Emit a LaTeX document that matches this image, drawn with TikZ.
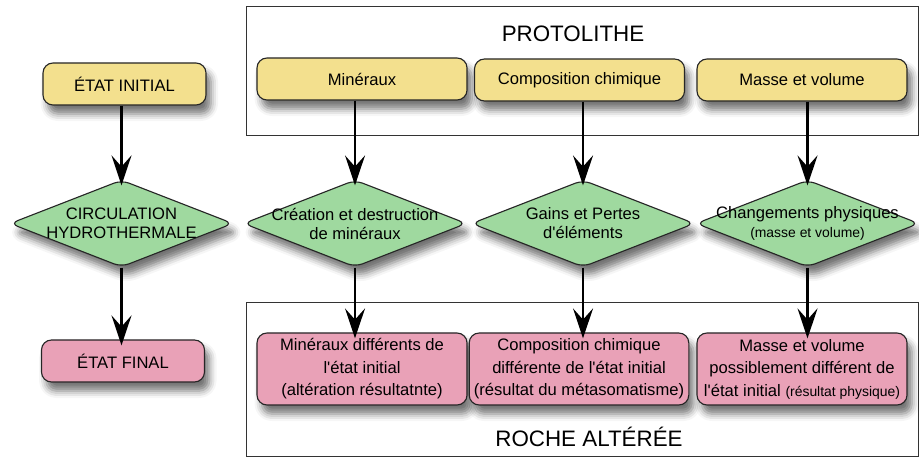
\documentclass[tikz,border=0pt]{standalone}
\usepackage{fontspec}
\setmainfont{Liberation Sans}[Ligatures=TeXOff]
\usetikzlibrary{arrows.meta,shapes.geometric,shadows.blur}

\definecolor{protoyellow}{HTML}{F3E08E}
\definecolor{fluidgreen}{HTML}{9FD99F}
\definecolor{alteredpink}{HTML}{E9A1B7}
\newcommand{\petit}[1]{{\fontsize{9.9}{12}\selectfont #1}}

\begin{document}
\begin{tikzpicture}[x=0.025cm,y=-0.025cm,
    >={Stealth[length=7.5mm,width=5mm,inset=2.8mm]},
    softshadow/.style={blur shadow={shadow xshift=0.12cm,shadow yshift=-0.22cm,
        shadow blur radius=0.18cm,shadow opacity=55}},
    rbox/.style={draw=black!85,line width=0.8pt,rounded corners=0.25cm,align=center,
        font=\fontsize{11.8}{16}\selectfont,softshadow},
    ybox/.style={rbox,fill=protoyellow,minimum width=5.25cm,minimum height=1.05cm},
    pbox/.style={rbox,fill=alteredpink,minimum width=5.25cm,minimum height=1.8cm},
    gdia/.style={diamond,draw=black!85,line width=0.8pt,rounded corners=0.2cm,
        fill=fluidgreen,align=center,font=\fontsize{11.8}{13.5}\selectfont,
        inner xsep=-1.8cm,inner ysep=-0.5cm,
        minimum width=5.575cm,minimum height=2.175cm,softshadow},
    frame/.style={draw=black!80,line width=0.6pt},
    title/.style={font=\fontsize{15.9}{19}\selectfont,anchor=base},
    flow/.style={->,line width=1.5pt,shorten >=-0.15cm}]
    % page size
    \useasboundingbox (0,0) rectangle (919,457);
    % frames
    \draw[frame] (246,6) rectangle (918.5,135);
    \draw[frame] (246,302) rectangle (918.5,456);
    \node[title] (proto) at (573,41.5) {PROTOLITHE};
    \node[title] (roche) at (589,446.5) {ROCHE ALTÉRÉE};

    % left column
    \node[ybox,minimum width=4.075cm] (ini) at (124.5,84) {ÉTAT INITIAL};
    \node[gdia] (circ) at (121.5,223.5) {CIRCULATION\\HYDROTHERMALE};
    \node[pbox,minimum width=4.075cm,minimum height=1.05cm] (fin) at (123,361) {ÉTAT FINAL};

    % protolithe
    \node[ybox] (min) at (362,79) {Minéraux};
    \node[ybox] (chim) at (579.5,80) {Composition chimique};
    \node[ybox] (mv) at (802,80) {Masse et volume};

    % processes
    \node[gdia] (crea) at (355,223.5) {Création et destruction\\de minéraux};
    \node[gdia] (gain) at (583,223.5) {Gains et Pertes\\d'éléments};
    \node[gdia] (chg) at (807.5,223.5) {Changements physiques\\\petit{(masse et volume)}};

    % roche alteree
    \node[pbox] (rmin) at (362,369) {Minéraux différents de\\l'état initial\\(altération résultatnte)};
    \node[pbox] (rchim) at (579,369) {Composition chimique\\différente de l'état initial\\(résultat du métasomatisme)};
    \node[pbox] (rmv) at (802,369) {Masse et volume\\possiblement différent de\\l'état initial \petit{(résultat physique)}};

    % arrows
    \draw[flow] (circ |- ini.south) -- (circ.north);
    \draw[flow] (circ.south) -- (circ |- fin.north);
    \draw[flow] (crea |- min.south) -- (crea.north);
    \draw[flow] (crea.south) -- (crea |- rmin.north);
    \draw[flow] (gain |- chim.south) -- (gain.north);
    \draw[flow] (gain.south) -- (gain |- rchim.north);
    \draw[flow] (chg |- mv.south) -- (chg.north);
    \draw[flow] (chg.south) -- (chg |- rmv.north);
\end{tikzpicture}
\end{document}
